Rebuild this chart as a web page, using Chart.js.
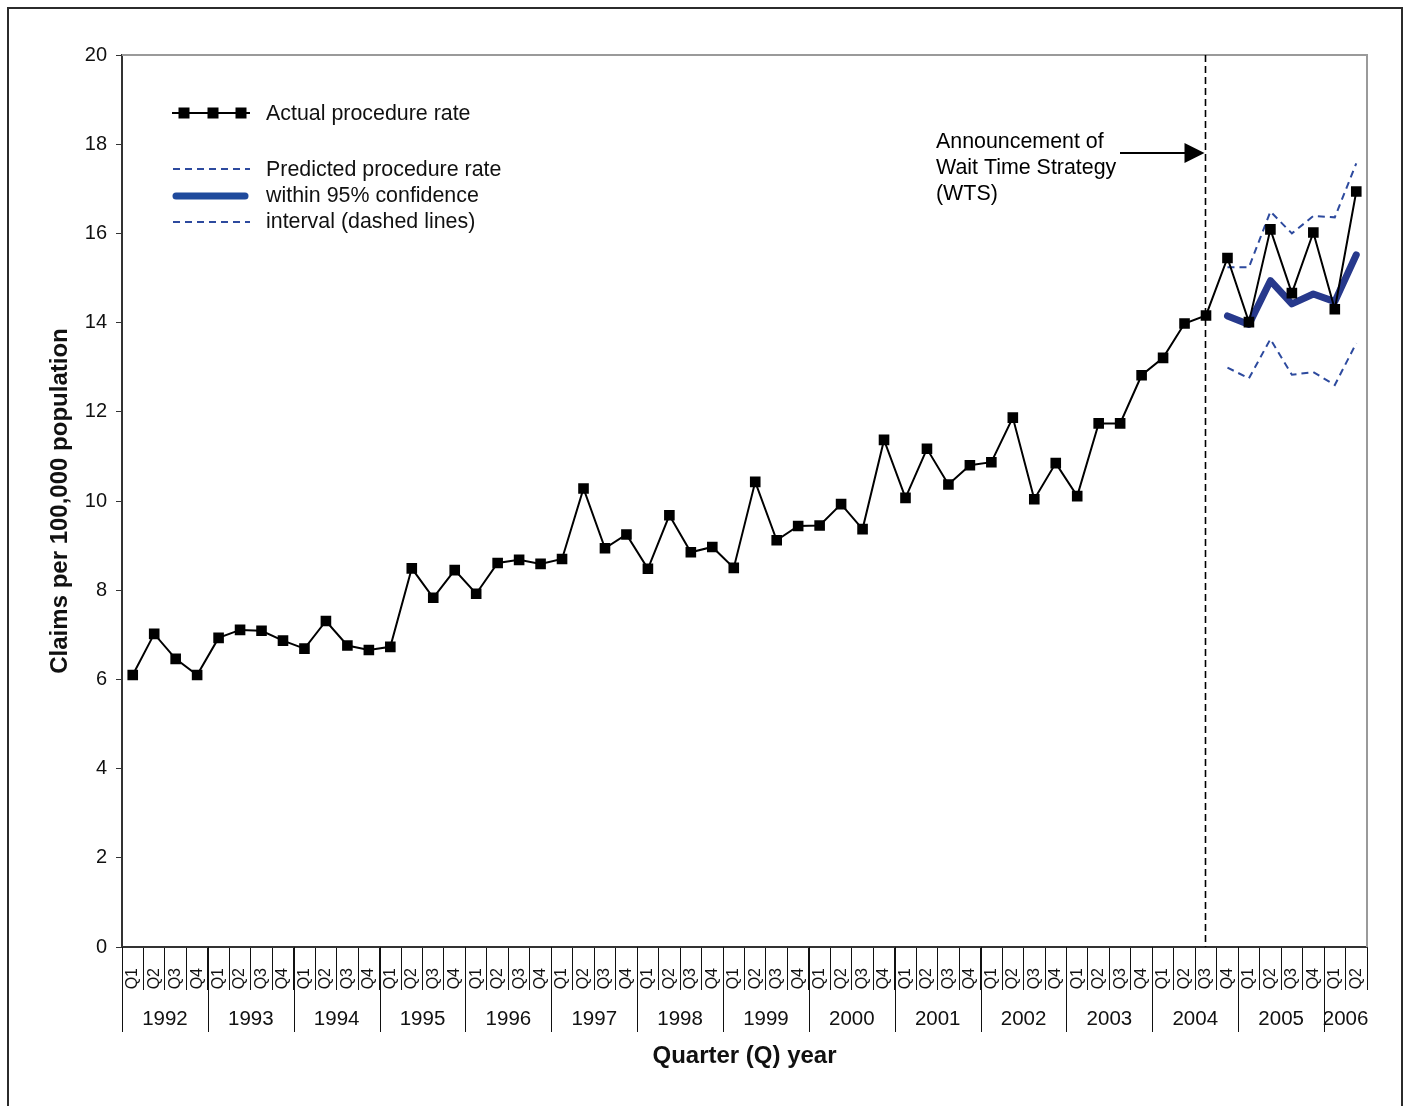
<!DOCTYPE html>
<html>
<head>
<meta charset="utf-8">
<title>Claims per 100,000 population</title>
<script src="https://cdn.jsdelivr.net/npm/chart.js@4.4.1/dist/chart.umd.min.js"></script>
<style>
  html, body { margin: 0; padding: 0; background: #fff; }
  #wrap { position: relative; width: 1406px; height: 1106px; overflow: hidden; }
  #frame { position: absolute; left: 7px; top: 7px; width: 1392px; height: 1200px; border: 2px solid #2b2b2b; pointer-events: none; }
  canvas { position: absolute; left: 0; top: 0; }
</style>
</head>
<body>
<div id="wrap">
  <canvas id="rateChart" width="1406" height="1106"></canvas>
  <div id="frame"></div>
</div>
<script>
// ---- data ----
const quarterNames = ['Q1', 'Q2', 'Q3', 'Q4'];
const years = ['1992', '1993', '1994', '1995', '1996', '1997', '1998', '1999',
  '2000', '2001', '2002', '2003', '2004', '2005', '2006'];
const quartersPerYear = [4, 4, 4, 4, 4, 4, 4, 4, 4, 4, 4, 4, 4, 4, 2];

// actual procedure rate, 1992 Q1 .. 2006 Q2
const actualRate = [
  6.10, 7.02, 6.46, 6.10,
  6.93, 7.11, 7.09, 6.87,
  6.69, 7.31, 6.76, 6.66,
  6.73, 8.49, 7.83, 8.45,
  7.92, 8.61, 8.68, 8.59,
  8.70, 10.28, 8.94, 9.25,
  8.48, 9.68, 8.85, 8.97,
  8.50, 10.43, 9.12, 9.44,
  9.45, 9.93, 9.37, 11.37,
  10.07, 11.17, 10.37, 10.80,
  10.87, 11.87, 10.04, 10.85,
  10.11, 11.74, 11.74, 12.82,
  13.21, 13.98, 14.16, 15.45,
  14.01, 16.09, 14.66, 16.02,
  14.30, 16.94
];

// predicted rate and 95% CI, 2004 Q4 .. 2006 Q2
const predictionStart = '2004 Q4';
const predictedRate = [14.15, 13.96, 14.94, 14.42, 14.64, 14.47, 15.52];
const upperBound = [15.24, 15.24, 16.49, 16.00, 16.39, 16.36, 17.57];
const lowerBound = [12.99, 12.75, 13.63, 12.83, 12.89, 12.60, 13.54];

const wtsQuarter = '2004 Q3';
const noteLines = ['Announcement of', 'Wait Time Strategy', '(WTS)'];

// ---- build labels ----
const quarterLabels = [];
const quarterKeys = [];
years.forEach((yr, k) => {
  for (let q = 0; q < quartersPerYear[k]; q++) {
    quarterLabels.push(quarterNames[q]);
    quarterKeys.push(yr + ' ' + quarterNames[q]);
  }
});

const predOffset = quarterKeys.indexOf(predictionStart);
const padPrediction = (arr) => quarterKeys.map((k, i) =>
  i < predOffset ? null : (arr[i - predOffset] ?? null));

const FONT = '"Liberation Sans", Arial, Helvetica, sans-serif';
const BLUE = '#27398c';
const DASH_BLUE = '#2d4a9e';

Chart.defaults.font.family = FONT;
Chart.defaults.color = '#111';

// year row under the quarter labels
const yearRow = {
  id: 'yearRow',
  afterDraw(chart) {
    const xs = chart.scales.x;
    const ctx = chart.ctx;
    const w = (xs.right - xs.left) / quarterLabels.length;
    let start = 0;
    ctx.save();
    ctx.strokeStyle = '#111';
    ctx.lineWidth = 1;
    ctx.fillStyle = '#111';
    ctx.font = '20.5px ' + FONT;
    ctx.textAlign = 'center';
    ctx.textBaseline = 'middle';
    years.forEach((yr, k) => {
      const n = quartersPerYear[k];
      const x0 = xs.getPixelForValue(start) - w / 2;
      const x1 = xs.getPixelForValue(start + n - 1) + w / 2;
      const px = Math.round(x0) + 0.5;
      ctx.beginPath();
      ctx.moveTo(px, xs.top);
      ctx.lineTo(px, xs.top + 85);
      ctx.stroke();
      ctx.fillText(yr, (x0 + x1) / 2, xs.top + 72);
      start += n;
    });
    ctx.restore();
  }
};

// plot frame (top/right), WTS line and arrow note
const wtsNote = {
  id: 'wtsNote',
  beforeDatasetsDraw(chart) {
    const { ctx, chartArea: a } = chart;
    const xs = chart.scales.x;
    ctx.save();
    ctx.strokeStyle = '#9a9a9a';
    ctx.lineWidth = 2;
    ctx.beginPath();
    ctx.moveTo(a.left, a.top);
    ctx.lineTo(a.right, a.top);
    ctx.lineTo(a.right, a.bottom);
    ctx.stroke();

    const vx = Math.round(xs.getPixelForValue(quarterKeys.indexOf(wtsQuarter))) - 0.5;
    ctx.strokeStyle = '#000';
    ctx.lineWidth = 1.6;
    ctx.setLineDash([7, 4]);
    ctx.beginPath();
    ctx.moveTo(vx, a.top);
    ctx.lineTo(vx, a.bottom);
    ctx.stroke();
    ctx.setLineDash([]);

    // arrow
    const ay = 153;
    ctx.lineWidth = 2;
    ctx.beginPath();
    ctx.moveTo(1120, ay);
    ctx.lineTo(vx - 18, ay);
    ctx.stroke();
    ctx.fillStyle = '#000';
    ctx.beginPath();
    ctx.moveTo(vx - 1, ay);
    ctx.lineTo(vx - 21, ay - 10);
    ctx.lineTo(vx - 21, ay + 10);
    ctx.closePath();
    ctx.fill();

    ctx.font = '21.4px ' + FONT;
    ctx.textAlign = 'left';
    ctx.textBaseline = 'middle';
    noteLines.forEach((t, i) => ctx.fillText(t, 936, 142 + i * 26));
    ctx.restore();
  }
};

// hand-drawn key (two groups)
const keyBox = {
  id: 'keyBox',
  afterDraw(chart) {
    const ctx = chart.ctx;
    ctx.save();
    ctx.font = '21.4px ' + FONT;
    ctx.textAlign = 'left';
    ctx.textBaseline = 'middle';
    ctx.fillStyle = '#111';

    // actual
    ctx.strokeStyle = '#000';
    ctx.lineWidth = 2;
    ctx.beginPath();
    ctx.moveTo(172, 113);
    ctx.lineTo(250, 113);
    ctx.stroke();
    ctx.fillStyle = '#000';
    [184, 213, 241].forEach(cx => ctx.fillRect(cx - 5.5, 113 - 5.5, 11, 11));
    ctx.fillStyle = '#111';
    ctx.fillText('Actual procedure rate', 266, 114);

    // predicted
    ctx.strokeStyle = DASH_BLUE;
    ctx.lineWidth = 2;
    ctx.setLineDash([7, 5]);
    [169, 222].forEach(y => {
      ctx.beginPath();
      ctx.moveTo(173, y);
      ctx.lineTo(250, y);
      ctx.stroke();
    });
    ctx.setLineDash([]);
    ctx.strokeStyle = '#1f4a9c';
    ctx.lineWidth = 7;
    ctx.lineCap = 'round';
    ctx.beginPath();
    ctx.moveTo(176, 196);
    ctx.lineTo(245, 196);
    ctx.stroke();
    ctx.fillText('Predicted procedure rate', 266, 170);
    ctx.fillText('within 95% confidence', 266, 196);
    ctx.fillText('interval (dashed lines)', 266, 222);
    ctx.restore();
  }
};

new Chart(document.getElementById('rateChart'), {
  type: 'line',
  data: {
    labels: quarterLabels,
    datasets: [
      {
        label: 'Actual procedure rate',
        data: actualRate,
        borderColor: '#000',
        borderWidth: 2,
        pointStyle: 'rect',
        pointRadius: 7.5,
        pointBackgroundColor: '#000',
        pointBorderWidth: 0,
        tension: 0,
        order: 0,
      },
      {
        label: 'Predicted procedure rate',
        data: padPrediction(predictedRate),
        borderColor: BLUE,
        borderWidth: 7,
        borderCapStyle: 'round',
        borderJoinStyle: 'round',
        pointRadius: 0,
        tension: 0,
        order: 1,
      },
      {
        label: 'Upper 95% CI',
        data: padPrediction(upperBound),
        borderColor: DASH_BLUE,
        borderWidth: 2,
        borderDash: [7, 5],
        pointRadius: 0,
        tension: 0,
        order: 2,
      },
      {
        label: 'Lower 95% CI',
        data: padPrediction(lowerBound),
        borderColor: DASH_BLUE,
        borderWidth: 2,
        borderDash: [7, 5],
        pointRadius: 0,
        tension: 0,
        order: 3,
      },
    ],
  },
  options: {
    responsive: false,
    animation: false,
    layout: { padding: { left: 0, top: 55, right: 39, bottom: 0 } },
    plugins: {
      legend: { display: false },
      tooltip: { enabled: false },
    },
    scales: {
      x: {
        type: 'category',
        offset: true,
        afterFit: (s) => { s.height = 159; },
        grid: {
          offset: true,
          drawOnChartArea: false,
          drawTicks: true,
          tickLength: 43,
          color: '#111',
          lineWidth: 1,
        },
        border: { color: '#333', width: 2 },
        ticks: {
          autoSkip: false,
          minRotation: 90,
          maxRotation: 90,
          padding: -22,
          color: '#111',
          font: { size: 16 },
        },
        title: {
          display: true,
          text: 'Quarter (Q) year',
          color: '#111',
          font: { size: 24, weight: 'bold' },
          padding: { top: 0, bottom: 35 },
        },
      },
      y: {
        min: 0,
        max: 20,
        afterFit: (s) => { s.width = 122; },
        grid: {
          drawOnChartArea: false,
          drawTicks: true,
          tickLength: 6,
          color: '#333',
        },
        border: { color: '#333', width: 2 },
        ticks: {
          stepSize: 2,
          padding: 9,
          color: '#111',
          font: { size: 20 },
        },
        title: {
          display: true,
          text: 'Claims per 100,000 population',
          color: '#111',
          font: { size: 24, weight: 'bold' },
          padding: { top: 46, bottom: 0 },
        },
      },
    },
  },
  plugins: [yearRow, wtsNote, keyBox],
});
</script>
</body>
</html>
